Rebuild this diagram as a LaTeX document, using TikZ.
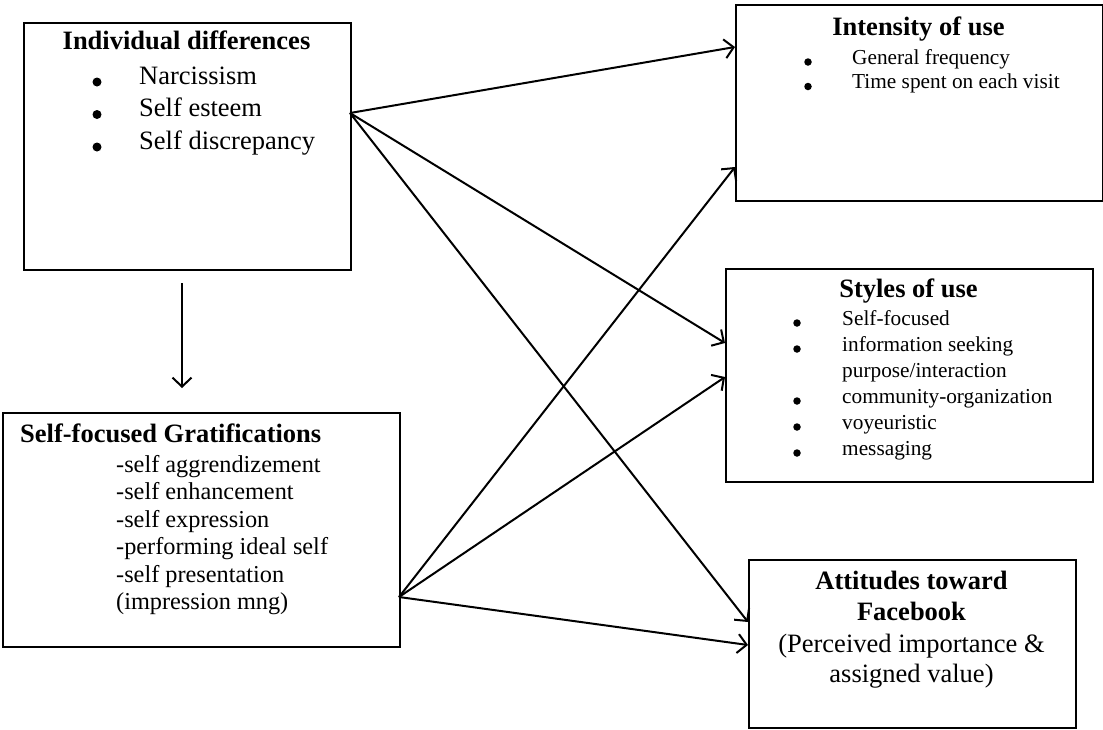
\documentclass[tikz,border=0pt]{standalone}
\usepackage{fontspec}
\setmainfont{Liberation Serif}
\usetikzlibrary{arrows.meta}
\begin{document}
\begin{tikzpicture}[x=1pt,y=-1pt,
 box/.style={draw=black, line width=2pt, inner sep=0pt, anchor=north west},
 arr/.style={line width=2pt, -{Straight Barb[length=9pt,width=19pt,line width=2pt]}},
 ttl/.style={font=\fontsize{26.5}{30}\selectfont\bfseries, inner sep=0pt, text height=0.7em, text depth=0.25em},
 big/.style={font=\fontsize{26.5}{30}\selectfont, inner sep=0pt, anchor=west, text height=0.7em, text depth=0.25em},
 bigc/.style={font=\fontsize{26.5}{30}\selectfont, inner sep=0pt, text height=0.7em, text depth=0.25em},
 small/.style={font=\fontsize{21.3}{24}\selectfont, inner sep=0pt, anchor=west, text height=0.7em, text depth=0.25em},
 mid/.style={font=\fontsize{24.3}{27}\selectfont, inner sep=0pt, anchor=west, text height=0.7em, text depth=0.25em},
 bdot/.style={circle, fill=black, inner sep=0pt, minimum size=9pt},
 sdot/.style={circle, fill=black, inner sep=0pt, minimum size=7.5pt}]
\useasboundingbox (0,0) rectangle (1103,729);

% Individual differences
\node[box, minimum width=327pt, minimum height=247pt] (ind) at (23,22) {};
\node[ttl] (indt) at (186.5,47) {Individual differences};
\node[bdot] (indb1) at (97,82) {};
\node[bdot] (indb2) at (97,114.5) {};
\node[bdot] (indb3) at (97,147) {};
\node[big] (ind1) at (139,82) {Narcissism};
\node[big] (ind2) at (139,114.5) {Self esteem};
\node[big] (ind3) at (139,147) {Self discrepancy};

% Intensity of use
\node[box, minimum width=367pt, minimum height=196pt] (int) at (735,4) {};
\node[ttl] (intt) at (918.5,33) {Intensity of use};
\node[sdot] (intb1) at (808,62) {};
\node[sdot] (intb2) at (808,86.5) {};
\node[small] (int1) at (852,62) {General frequency};
\node[small] (int2) at (852,86.5) {Time spent on each visit};

% Styles of use
\node[box, minimum width=367pt, minimum height=213pt] (sty) at (725,268) {};
\node[ttl] (styt) at (908.5,295) {Styles of use};
\node[sdot] (styb1) at (797,323) {};
\node[sdot] (styb2) at (797,349) {};
\node[sdot] (styb3) at (797,401) {};
\node[sdot] (styb4) at (797,427) {};
\node[sdot] (styb5) at (797,453) {};
\node[small] (sty1) at (842,323) {Self-focused};
\node[small] (sty2) at (842,349) {information seeking};
\node[small] (sty2b) at (842,375) {purpose/interaction};
\node[small] (sty3) at (842,401) {community-organization};
\node[small] (sty4) at (842,427) {voyeuristic};
\node[small] (sty5) at (842,453) {messaging};

% Attitudes toward Facebook
\node[box, minimum width=327pt, minimum height=168pt] (att) at (748,559) {};
\node[ttl] (attt1) at (911.5,587) {Attitudes toward};
\node[ttl] (attt2) at (911.5,618) {Facebook};
\node[bigc] (att1) at (911.5,650) {(Perceived importance \&};
\node[bigc] (att2) at (911.5,680) {assigned value)};

% Self-focused Gratifications
\node[box, minimum width=397pt, minimum height=234pt] (sfg) at (2,412) {};
\node[ttl, anchor=west] (sfgt) at (20,440) {Self-focused Gratifications};
\node[mid] (sfg1) at (116,470) {-self aggrendizement};
\node[mid] (sfg2) at (116,497.5) {-self enhancement};
\node[mid] (sfg3) at (116,525) {-self expression};
\node[mid] (sfg4) at (116,552.5) {-performing ideal self};
\node[mid] (sfg5) at (116,580) {-self presentation};
\node[mid] (sfg6) at (116,607.5) {(impression mng)};

% connector end points
\coordinate (iout) at (350,113);
\coordinate (sout) at (399,597);
\coordinate (intA) at (735,47);
\coordinate (intB) at (735,167);
\coordinate (styA) at (725,343);
\coordinate (styB) at (725,377);
\coordinate (attA) at (748,622);
\coordinate (attB) at (748,645);
\coordinate (vtop) at (182,283);
\coordinate (vbot) at (182,388);

\draw[arr] (vtop) -- (vbot);
\draw[arr] (iout) -- (intA);
\draw[arr] (iout) -- (styA);
\draw[arr] (iout) -- (attA);
\draw[arr] (sout) -- (intB);
\draw[arr] (sout) -- (styB);
\draw[arr] (sout) -- (attB);
\end{tikzpicture}
\end{document}
